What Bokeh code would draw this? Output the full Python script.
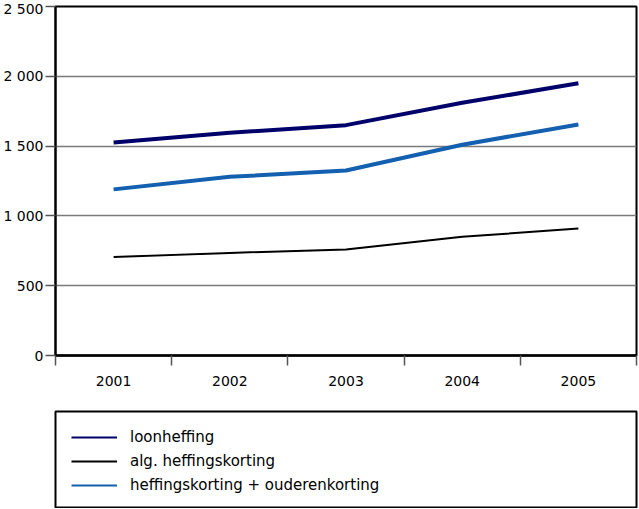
from bokeh.plotting import figure
from bokeh.models import Range1d, FixedTicker, Legend, LegendItem
from bokeh.layouts import column
from bokeh.embed import file_html
from bokeh.resources import INLINE

years = ["2001", "2002", "2003", "2004", "2005"]
loonheffing = [1525, 1595, 1650, 1810, 1950]
alg_heffingskorting = [705, 735, 760, 850, 910]
heffingskorting_ouderen = [1190, 1280, 1325, 1510, 1655]
y_ticks = [0, 500, 1000, 1500, 2000, 2500]
y_tick_labels = ["0", "500", "1 000", "1 500", "2 000", "2 500"]

NAVY = "#00006b"
BLUE = "#135fb0"
FONT = "DejaVu Sans"

xs = [i + 0.5 for i in range(len(years))]
bounds = list(range(len(years) + 1))

p = figure(width=638, height=410, x_range=Range1d(0, len(years)), y_range=Range1d(0, 2500),
           output_backend="svg", toolbar_location=None,
           min_border_left=55, min_border_right=2, min_border_top=6, min_border_bottom=55)
p.outline_line_color = "black"
p.outline_line_width = 2
p.xgrid.visible = False
p.ygrid.ticker = FixedTicker(ticks=y_ticks)
p.ygrid.grid_line_color = "#7a7a7a"
p.ygrid.grid_line_width = 1.5

p.yaxis.ticker = FixedTicker(ticks=y_ticks)
p.yaxis.major_label_overrides = {t: l for t, l in zip(y_ticks, y_tick_labels)}
p.yaxis.major_tick_out = 10
p.yaxis.major_tick_in = 0
p.yaxis.major_tick_line_color = "#555555"
p.yaxis.major_tick_line_width = 1.5
p.yaxis.minor_tick_line_color = None
p.yaxis.major_label_standoff = 2
p.yaxis.axis_line_width = 2
p.yaxis.major_label_text_font = FONT
p.yaxis.major_label_text_font_size = "14px"
p.yaxis.major_label_text_color = "black"

p.xaxis.ticker = FixedTicker(ticks=xs, minor_ticks=bounds)
p.xaxis.major_label_overrides = {x: y for x, y in zip(xs, years)}
p.xaxis.major_tick_line_color = None
p.xaxis.major_tick_out = 0
p.xaxis.major_tick_in = 0
p.xaxis.minor_tick_out = 10
p.xaxis.minor_tick_in = 0
p.xaxis.minor_tick_line_color = "#555555"
p.xaxis.minor_tick_line_width = 1.5
p.xaxis.major_label_standoff = 10
p.xaxis.axis_line_width = 2.5
p.xaxis.major_label_text_font = FONT
p.xaxis.major_label_text_font_size = "14px"
p.xaxis.major_label_text_color = "black"

p.line(xs, alg_heffingskorting, line_color="black", line_width=2)
p.line(xs, heffingskorting_ouderen, line_color=BLUE, line_width=4)
p.line(xs, loonheffing, line_color=NAVY, line_width=4)

# legend panel: proxies use the same data but lie outside this panel's visible range
lg = figure(width=638, height=98, x_range=Range1d(0, 1), y_range=Range1d(0, 1),
            x_axis_type=None, y_axis_type=None, output_backend="svg", toolbar_location=None,
            min_border_left=55, min_border_right=2, min_border_top=1, min_border_bottom=1)
lg.outline_line_color = "black"
lg.outline_line_width = 2
r1 = lg.line(xs, loonheffing, line_color=NAVY, line_width=2)
r2 = lg.line(xs, alg_heffingskorting, line_color="black", line_width=2)
r3 = lg.line(xs, heffingskorting_ouderen, line_color=BLUE, line_width=2)
legend = Legend(items=[LegendItem(label="loonheffing", renderers=[r1]),
                       LegendItem(label="alg. heffingskorting", renderers=[r2]),
                       LegendItem(label="heffingskorting + ouderenkorting", renderers=[r3])],
                location="top_left", margin=16, padding=0, border_line_color=None,
                background_fill_alpha=0, glyph_width=46, glyph_height=20, label_height=20,
                label_standoff=13, spacing=4, label_text_font=FONT,
                label_text_font_size="15px", label_text_color="black")
lg.add_layout(legend)

layout = column(p, lg, spacing=0)
open("out.html", "w").write(file_html(layout, INLINE))
